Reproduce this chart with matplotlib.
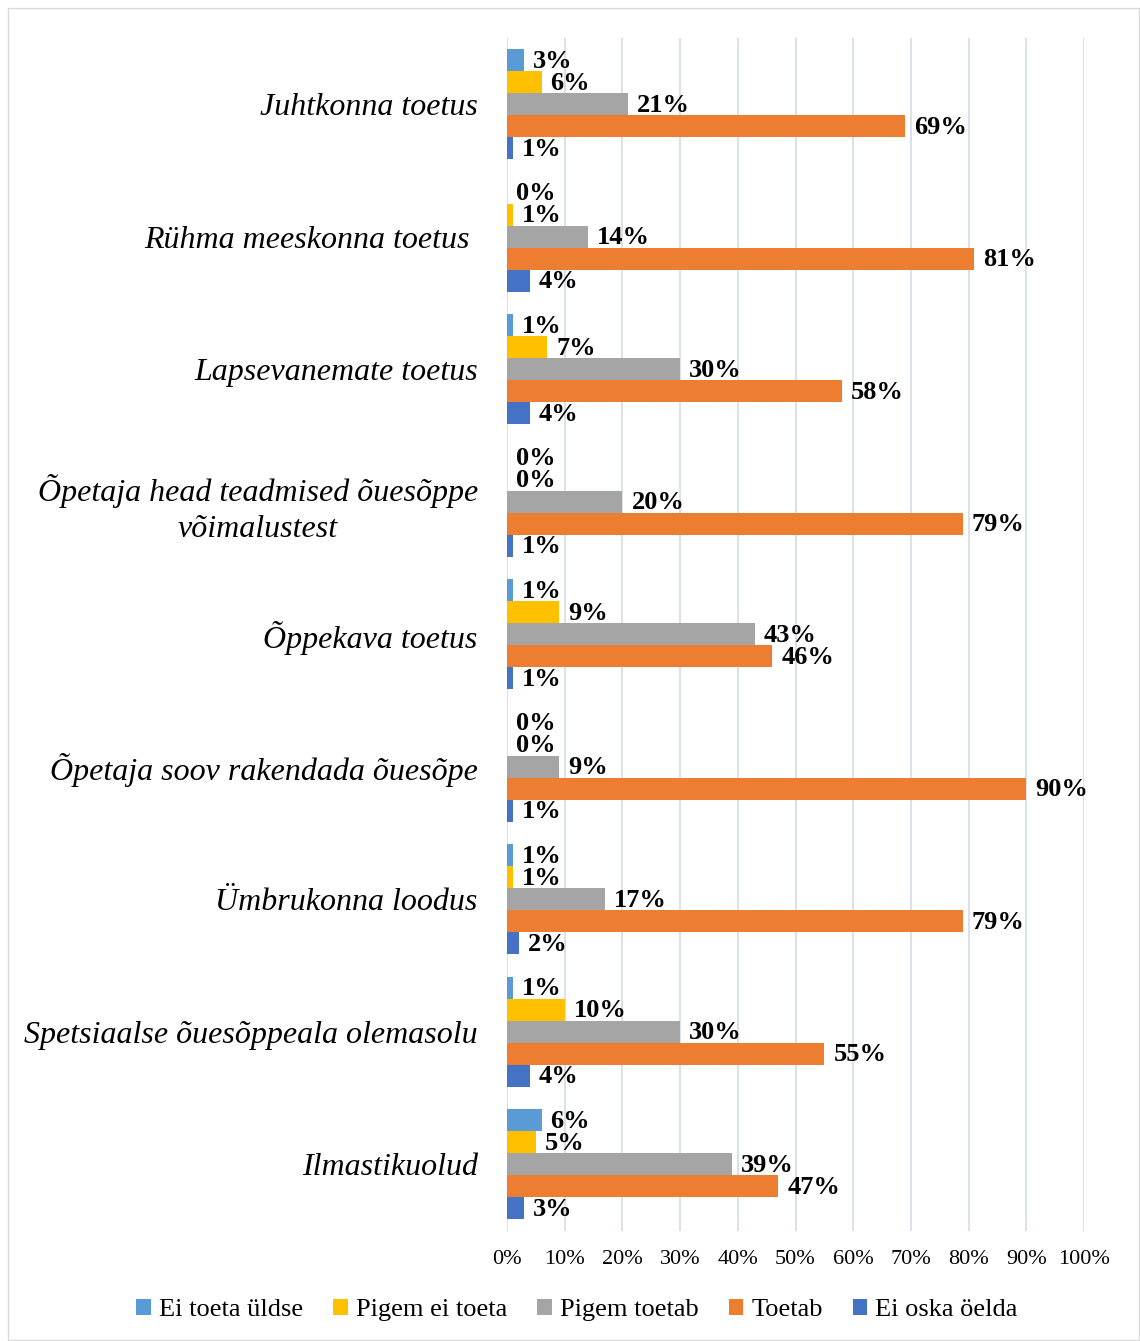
import matplotlib
matplotlib.use("Agg")
import matplotlib.pyplot as plt
from matplotlib.patches import Rectangle, Patch
from matplotlib.ticker import PercentFormatter

plt.rcParams['font.family'] = ['Liberation Serif', 'DejaVu Serif']

categories = [
    "Juhtkonna toetus",
    "Rühma meeskonna toetus ",
    "Lapsevanemate toetus",
    "Õpetaja head teadmised õuesõppe\nvõimalustest",
    "Õppekava toetus",
    "Õpetaja soov rakendada õuesõpe",
    "Ümbrukonna loodus",
    "Spetsiaalse õuesõppeala olemasolu",
    "Ilmastikuolud",
]
series_names = ["Ei toeta üldse", "Pigem ei toeta", "Pigem toetab", "Toetab", "Ei oska öelda"]
ei_toeta_uldse = [3, 0, 1, 0, 1, 0, 1, 1, 6]
pigem_ei_toeta = [6, 1, 7, 0, 9, 0, 1, 10, 5]
pigem_toetab = [21, 14, 30, 20, 43, 9, 17, 30, 39]
toetab = [69, 81, 58, 79, 46, 90, 79, 55, 47]
ei_oska_oelda = [1, 4, 4, 1, 1, 1, 2, 4, 3]
xticks = [0, 10, 20, 30, 40, 50, 60, 70, 80, 90, 100]

series = [ei_toeta_uldse, pigem_ei_toeta, pigem_toetab, toetab, ei_oska_oelda]
colors = ["#5B9BD5", "#FFC000", "#A5A5A5", "#ED7D31", "#4472C4"]

W, H = 1140, 1341
fig = plt.figure(figsize=(W / 100, H / 100), dpi=100)
ax = fig.add_axes([507 / W, 1 - 1230.5 / H, (1084 - 507) / W, (1230.5 - 38) / H])

h = 0.166
for j, (vals, col, name) in enumerate(zip(series, colors, series_names)):
    ys = [i + (j - 2) * h for i in range(len(categories))]
    ax.barh(ys, vals, height=h, color=col, label=name, zorder=3)
    for y, v in zip(ys, vals):
        ax.annotate(f"{v}%", (v, y), xytext=(9, -1), textcoords='offset pixels',
                    ha='left', va='center', fontsize=19, fontweight='bold', zorder=4)

ax.set_xlim(0, 100)
ax.set_ylim(len(categories) - 0.5, -0.5)
ax.set_xticks(xticks)
ax.xaxis.set_major_formatter(PercentFormatter(decimals=0))
ax.set_yticks(range(len(categories)))
ax.set_yticklabels(categories, fontsize=23, style='italic', multialignment='center',
                   linespacing=1.35)
ax.tick_params(axis='y', length=0, pad=21)
ax.tick_params(axis='x', length=0, pad=14, labelsize=16)
for s in ax.spines.values():
    s.set_visible(False)
ax.grid(axis='x', color='#D9DEE6', linewidth=1.3, zorder=0)
ax.set_axisbelow(True)

handles = [Patch(facecolor=c, label=n) for c, n in zip(colors, series_names)]
fig.legend(handles=handles, loc='center', bbox_to_anchor=(577 / W, 1 - 1310 / H), ncol=5,
           frameon=False, fontsize=19, handlelength=0.55, handleheight=0.55,
           handletextpad=0.3, columnspacing=1.15)

fig.patches.append(Rectangle((8 / W, 1 / H), (W - 9) / W, (H - 9) / H, transform=fig.transFigure,
                             fill=False, edgecolor='#D9D9D9', linewidth=1))

fig.savefig("out.png", dpi=100, facecolor='white')
